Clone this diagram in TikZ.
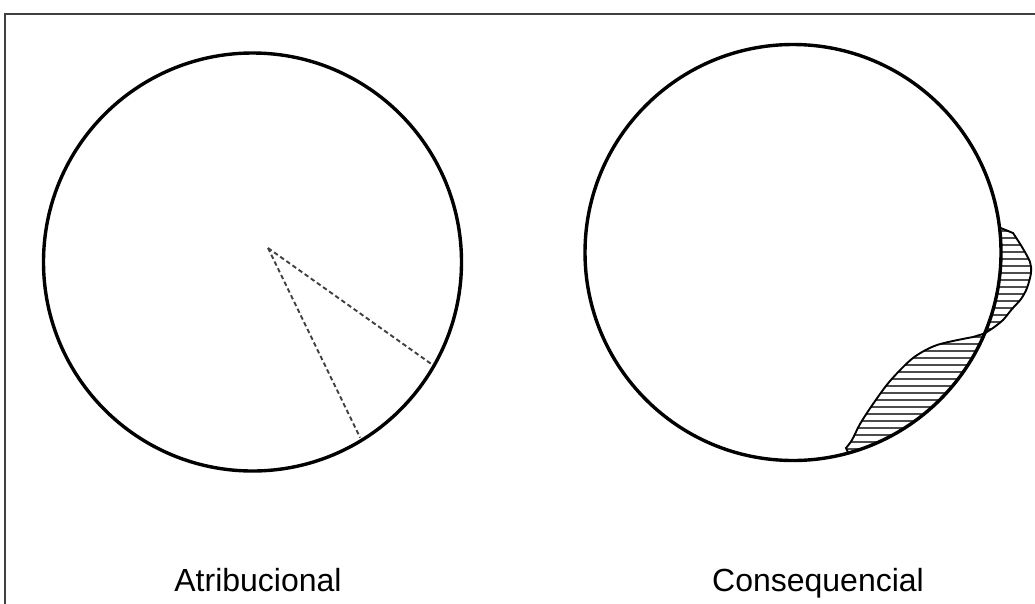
\documentclass[tikz,border=0pt]{standalone}
\usepackage{fontspec}
\setmainfont{Liberation Sans}
\usetikzlibrary{calc}
% contornos das zonas hachuradas (usados no clip e no traco)
\newcommand\zonacima{(a1) -- plot[smooth] coordinates {(1013,233) (1022,247) (1030,262) (1031,273) (1027,288) (1021,299) (1012,309) (1003,320) (993,328)} -- (a2) arc[start angle=22.9, end angle=-6.9, radius=208] -- cycle}
\newcommand\zonabaixo{(a2) -- plot[smooth] coordinates {(973,337) (937,345) (913,358) (890,381) (873,404) (860,424) (852,440) (846,448)} -- (b1) arc[start angle=74.6, end angle=22.9, radius=208] -- cycle}
\begin{document}
\begin{tikzpicture}[x=1pt, y=-1pt,
    circulo/.style={draw, line width=3.4pt},
    raio/.style={draw, dash pattern=on 4.5pt off 3pt, line width=1.9pt, black!75},
    rotulo/.style={font=\fontsize{32}{38}\selectfont, anchor=base, inner sep=0pt},
    moldura/.style={draw, line width=2.2pt, black!75},
    hachura/.style={line width=2.3pt, black!70},
    contorno/.style={draw, line width=1.9pt}]
  \useasboundingbox (0,0) rectangle (1035,603);
  \clip (0,0) rectangle (1035,603);
  \draw[moldura] (5,14) rectangle (1050,620);

  % circulo da esquerda
  \coordinate (C1) at (252.5,262);
  \coordinate (O) at (268,248);
  \coordinate (p1) at ($(C1)+(29.7:206)$);
  \coordinate (p2) at ($(C1)+(58.5:206)$);
  \draw[raio] (O) -- (p1);
  \draw[raio] (O) -- (p2);
  \draw[circulo] (C1) circle[radius=209];

  % circulo da direita
  \coordinate (C2) at (793,252.5);
  \coordinate (a1) at ($(C2)+(-6.9:208)$);
  \coordinate (a2) at ($(C2)+(22.9:208)$);
  \coordinate (b1) at ($(C2)+(74.6:208)$);
  \begin{scope}
    \clip \zonacima;
    \foreach \y in {224,231,...,340} \draw[hachura] (960,\y) -- (1040,\y);
  \end{scope}
  \begin{scope}
    \clip \zonabaixo;
    \foreach \y in {330,337,...,460} \draw[hachura] (830,\y) -- (1000,\y);
  \end{scope}
  \draw[contorno] \zonacima;
  \draw[contorno] \zonabaixo;
  \draw[circulo] (C2) circle[radius=208];

  \node[rotulo] (atrib) at (258,591) {Atribucional};
  \node[rotulo] (conseq) at (818,591) {Consequencial};
\end{tikzpicture}
\end{document}
